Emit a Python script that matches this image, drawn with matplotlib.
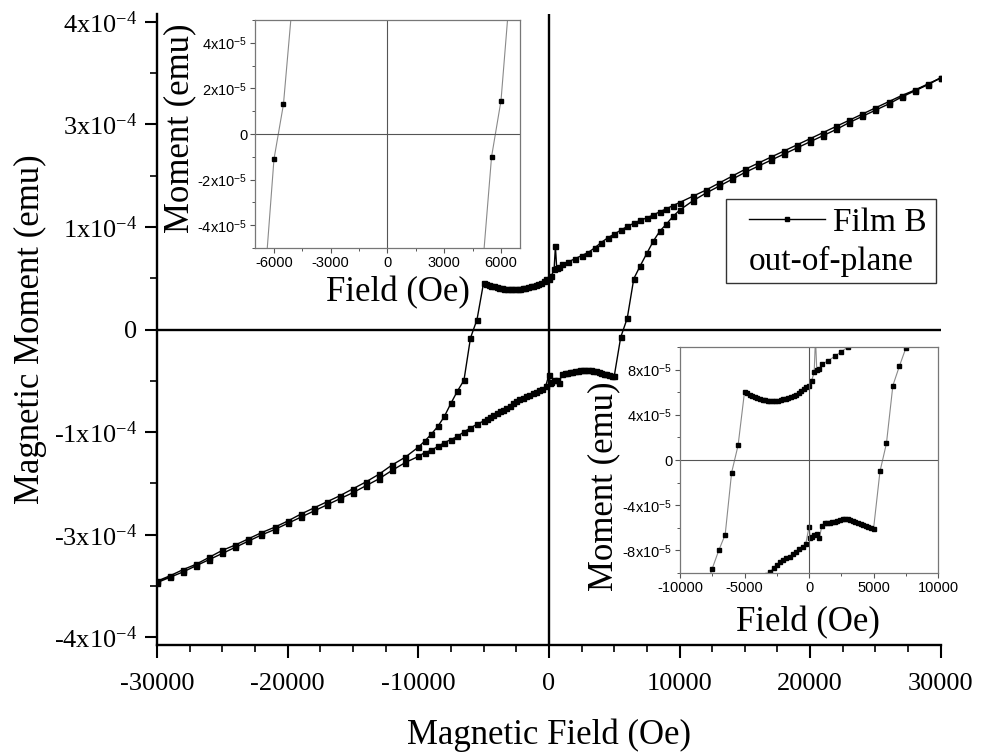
import numpy as np
import matplotlib.pyplot as plt
from matplotlib.lines import Line2D
from matplotlib.patches import Rectangle
from matplotlib.ticker import MultipleLocator, AutoMinorLocator

plt.rcParams['font.family'] = 'Liberation Serif'
plt.rcParams['mathtext.fontset'] = 'custom'
plt.rcParams['mathtext.rm'] = 'Liberation Serif'
plt.rcParams['mathtext.it'] = 'Liberation Serif:italic'
plt.rcParams['mathtext.bf'] = 'Liberation Serif:bold'
plt.rcParams['mathtext.sf'] = 'Liberation Sans'

# hysteresis loop, field in Oe, moment in 1e-5 emu
# branch 1: field sweeping down from +30 kOe
field_down = [30000, 29000, 28000, 27000, 26000, 25000, 24000, 23000, 22000, 21000,
              20000, 19000, 18000, 17000, 16000, 15000, 14000, 13000, 12000, 11000,
              10000, 9500, 9000, 8500, 8000, 7500, 7000, 6500, 6000, 5500,
              5000, 4500, 4000, 3500, 3000, 2500, 2000, 1500, 1000, 800,
              600, 500, 400, 200, 0, -200, -400, -600, -800, -1000,
              -1200, -1400, -1600, -1800, -2000, -2200, -2400, -2600, -2800, -3000,
              -3200, -3400, -3600, -3800, -4000, -4200, -4400, -4600, -4800, -5000,
              -5500, -6000, -6500, -7000, -7500, -8000, -8500, -9000, -9500, -10000,
              -11000, -12000, -13000, -14000, -15000, -16000, -17000, -18000, -19000, -20000,
              -21000, -22000, -23000, -24000, -25000, -26000, -27000, -28000, -29000, -30000]
moment_down = [32.7, 31.9, 31.1, 30.4, 29.6, 28.8, 28.0, 27.2, 26.4, 25.6,
               24.8, 24.0, 23.2, 22.4, 21.6, 20.8, 19.9, 19.0, 18.1, 17.3,
               16.5, 16.1, 15.7, 15.3, 14.9, 14.5, 14.2, 13.8, 13.4, 12.9,
               12.4, 11.9, 11.3, 10.6, 10.0, 9.6, 9.2, 8.8, 8.5, 8.1,
               8.0, 10.8, 7.8, 7.0, 6.6, 6.5, 6.3, 6.1, 5.95, 5.8,
               5.7, 5.6, 5.5, 5.45, 5.4, 5.3, 5.25, 5.2, 5.2, 5.2,
               5.25, 5.3, 5.35, 5.45, 5.5, 5.6, 5.7, 5.8, 5.95, 6.05,
               1.3, -1.1, -6.6, -8.0, -9.6, -11.3, -12.6, -13.6, -14.5, -15.3,
               -16.6, -17.6, -18.8, -19.8, -20.7, -21.6, -22.4, -23.2, -24.0, -24.9,
               -25.7, -26.4, -27.2, -28.0, -28.7, -29.6, -30.5, -31.2, -32.0, -32.7]

# branch 2: field sweeping back up
field_up = [-30000, -29000, -28000, -27000, -26000, -25000, -24000, -23000, -22000, -21000,
            -20000, -19000, -18000, -17000, -16000, -15000, -14000, -13000, -12000, -11000,
            -10000, -9500, -9000, -8500, -8000, -7500, -7000, -6500, -6000, -5500,
            -5000, -4750, -4500, -4250, -4000, -3750, -3500, -3250, -3000, -2750,
            -2500, -2250, -2000, -1750, -1500, -1250, -1000, -750, -500, -250,
            0, 100, 200, 400, 600, 800, 1000, 1200, 1400, 1600,
            1800, 2000, 2200, 2400, 2600, 2800, 3000, 3200, 3400, 3600,
            3800, 4000, 4200, 4400, 4600, 4800, 5000, 5500, 6000, 6500,
            7000, 7500, 8000, 8500, 9000, 9500, 10000, 11000, 12000, 13000,
            14000, 15000, 16000, 17000, 18000, 19000, 20000, 21000, 22000, 23000,
            24000, 25000, 26000, 27000, 28000, 29000, 30000]
moment_up = [-32.9, -32.2, -31.5, -30.7, -29.9, -29.1, -28.3, -27.5, -26.7, -26.0,
             -25.2, -24.4, -23.6, -22.8, -22.0, -21.2, -20.3, -19.4, -18.3, -17.3,
             -16.5, -16.0, -15.7, -15.2, -14.7, -14.3, -13.9, -13.3, -12.8, -12.3,
             -11.9, -11.6, -11.4, -11.1, -10.9, -10.6, -10.4, -10.15, -9.9, -9.55,
             -9.25, -9.05, -8.86, -8.7, -8.56, -8.3, -8.1, -7.9, -7.7, -7.4,
             -5.9, -6.9, -6.8, -6.6, -6.5, -6.9, -5.8, -5.6, -5.6, -5.55,
             -5.5, -5.45, -5.4, -5.3, -5.25, -5.25, -5.25, -5.3, -5.35, -5.45,
             -5.55, -5.65, -5.75, -5.8, -5.9, -6.0, -6.1, -1.0, 1.47, 6.6,
             8.3, 9.9, 11.5, 12.8, 13.7, 14.7, 15.5, 16.7, 17.7, 18.6,
             19.5, 20.4, 21.2, 22.0, 22.8, 23.6, 24.4, 25.2, 26.0, 26.9,
             27.7, 28.5, 29.3, 30.2, 31.0, 31.8, 32.7]

main_xticks = [-30000, -20000, -10000, 0, 10000, 20000, 30000]
main_yticks = [-4e-4, -8e-4 / 3, -4e-4 / 3, 0, 4e-4 / 3, 8e-4 / 3, 4e-4]
main_ylabels = ['-4x10$^{-4}$', '-3x10$^{-4}$', '-1x10$^{-4}$', '0',
                '1x10$^{-4}$', '3x10$^{-4}$', '4x10$^{-4}$']

top_xticks = [-6000, -3000, 0, 3000, 6000]
top_yticks = [-4e-5, -2e-5, 0, 2e-5, 4e-5]
top_ylabels = [r'-4x10$^{\mathsf{-5}}$', r'-2x10$^{\mathsf{-5}}$', '0',
               r'2x10$^{\mathsf{-5}}$', r'4x10$^{\mathsf{-5}}$']

bot_xticks = [-10000, -5000, 0, 5000, 10000]
bot_yticks = [-8e-5, -4e-5, 0, 4e-5, 8e-5]
bot_ylabels = [r'-8x10$^{\mathsf{-5}}$', r'-4x10$^{\mathsf{-5}}$', '0',
               r'4x10$^{\mathsf{-5}}$', r'8x10$^{\mathsf{-5}}$']

H = np.array(field_down + field_up)
M = np.array(moment_down + moment_up) * 1e-5

fig = plt.figure(figsize=(9.81, 7.53), dpi=100)

# main plot
ax = fig.add_axes([0.160, 0.1434, 0.799, 0.838])
ax.plot(H, M, color='black', lw=1, marker='s', ms=3.6, zorder=3)
ax.axhline(0, color='black', lw=1.7, zorder=2)
ax.axvline(0, color='black', lw=1.7, zorder=2)
ax.set_xlim(-30000, 30000)
ax.set_ylim(-4.1e-4, 4.1e-4)
ax.set_xticks(main_xticks, [str(v) for v in main_xticks])
ax.xaxis.set_minor_locator(MultipleLocator(2500))
ax.set_yticks(main_yticks, main_ylabels)
ax.yaxis.set_minor_locator(AutoMinorLocator(2))
for s in ['top', 'right']:
    ax.spines[s].set_visible(False)
for s in ['left', 'bottom']:
    ax.spines[s].set_linewidth(1.7)
ax.tick_params(which='major', length=9, width=1.5, labelsize=19, pad=5)
ax.tick_params(axis='x', which='major', pad=11)
ax.tick_params(which='minor', length=5, width=1.2)
ax.set_xlabel('Magnetic Field (Oe)', fontsize=25)
ax.set_ylabel('Magnetic Moment (emu)', fontsize=25)
ax.xaxis.set_label_coords(0.5, -0.116)
ax.yaxis.set_label_coords(-0.14, 0.5)

# legend box
leg = ax.legend([Line2D([], [], color='black', lw=1, marker='s', ms=2.5)], ['Film B'],
                loc='center left', bbox_to_anchor=(0.755, 0.669), bbox_transform=ax.transAxes,
                frameon=False, borderpad=0, borderaxespad=0, handlelength=2.28,
                handletextpad=0.24, fontsize=24)
ax.text(0.860, 0.594, 'out-of-plane', transform=ax.transAxes, fontsize=24,
        ha='center', va='baseline')
ax.add_patch(Rectangle((0.7258, 0.5737), 0.2678, 0.1331, transform=ax.transAxes,
                       fill=False, lw=1, ec='#333333'))


def inset(rect, xlim, ylim, xticks, yticks, ylabels, xminor, yminor, ms, ylab_pos, xlab_pos):
    a = fig.add_axes(rect)
    a.plot(H, M, color='#8a8a8a', lw=0.8, marker='s', ms=ms, mfc='black', mec='black')
    a.axhline(0, color='#555555', lw=0.8)
    a.axvline(0, color='#555555', lw=0.8)
    a.set_xlim(*xlim)
    a.set_ylim(*ylim)
    a.set_xticks(xticks, [str(v) for v in xticks])
    a.set_yticks(yticks, ylabels)
    a.xaxis.set_minor_locator(MultipleLocator(xminor))
    a.yaxis.set_minor_locator(MultipleLocator(yminor))
    for s in a.spines.values():
        s.set_color('#777777')
        s.set_linewidth(0.9)
    a.tick_params(which='major', length=3.5, width=0.8, color='#555555',
                  labelsize=10.5, labelfontfamily='Liberation Sans', pad=2)
    a.tick_params(which='minor', length=2, width=0.7, color='#555555')
    a.set_xlabel('Field (Oe)', fontsize=25)
    a.set_ylabel('Moment (emu)', fontsize=25)
    a.yaxis.set_label_coords(*ylab_pos)
    a.xaxis.set_label_coords(*xlab_pos)
    return a


inset([0.260, 0.6706, 0.270, 0.3028], (-7000, 7000), (-5e-5, 5e-5),
      top_xticks, top_yticks, top_ylabels, 1500, 1e-5, 3.2, (-0.222, 0.526), (0.54, -0.123))
inset([0.6932, 0.239, 0.263, 0.300], (-10000, 10000), (-1e-4, 1e-4),
      bot_xticks, bot_yticks, bot_ylabels, 2500, 2e-5, 2.6, (-0.232, 0.385), (0.496, -0.146))

fig.savefig('out.png', dpi=100)
